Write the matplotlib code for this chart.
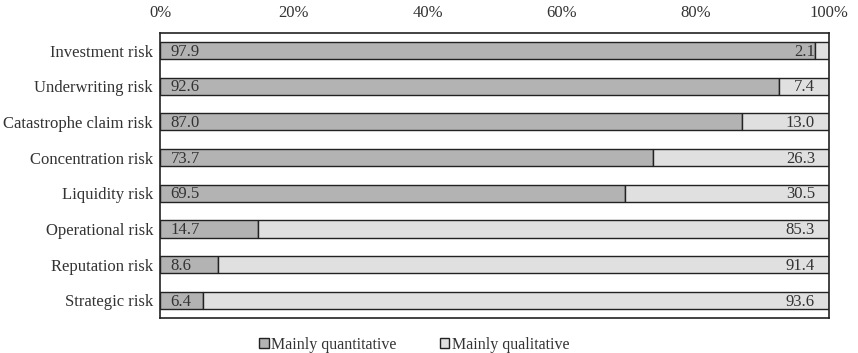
import numpy as np
import matplotlib.pyplot as plt
from matplotlib.ticker import PercentFormatter

plt.rcParams['font.family'] = ['Liberation Serif', 'DejaVu Serif']
plt.rcParams['font.size'] = 12

risks = ['Investment risk', 'Underwriting risk', 'Catastrophe claim risk',
         'Concentration risk', 'Liquidity risk', 'Operational risk',
         'Reputation risk', 'Strategic risk']
quantitative = [97.9, 92.6, 87.0, 73.7, 69.5, 14.7, 8.6, 6.4]
qualitative = [2.1, 7.4, 13.0, 26.3, 30.5, 85.3, 91.4, 93.6]

fig = plt.figure(figsize=(8.58, 3.53), dpi=100)
ax = fig.add_axes([0.1865, 0.0992, 0.7797, 0.8073])

y = np.arange(len(risks))
ax.barh(y, quantitative, height=0.48, color='#b3b3b3', edgecolor='#222222',
        linewidth=1.0, label='Mainly quantitative')
ax.barh(y, qualitative, left=quantitative, height=0.48, color='#e0e0e0',
        edgecolor='#222222', linewidth=1.0, label='Mainly qualitative')

for yi, q, l in zip(y, quantitative, qualitative):
    ax.text(1.6, yi + 0.03, '%.1f' % q, va='center', ha='left', color='#333333')
    ax.text(97.9, yi + 0.03, '%.1f' % l, va='center', ha='right', color='#333333')

ax.set_xlim(0, 100)
ax.set_ylim(7.49, -0.49)
ax.set_yticks(y)
ax.set_yticklabels(risks)
ax.set_xticks(np.arange(0, 101, 20))
ax.xaxis.set_major_formatter(PercentFormatter(decimals=0))
ax.xaxis.tick_top()
ax.tick_params(axis='both', length=0, colors='#333333')
ax.tick_params(axis='x', pad=9)
ax.tick_params(axis='y', pad=5)
for s in ax.spines.values():
    s.set_linewidth(1.2)
    s.set_color('#222222')

fig.legend(loc='lower center', ncol=2, frameon=False, bbox_to_anchor=(0.483, -0.04),
           fontsize=11.5, handlelength=0.6, handleheight=0.6, handletextpad=0.15,
           columnspacing=2.7, labelcolor='#333333')

plt.savefig('out.png')
